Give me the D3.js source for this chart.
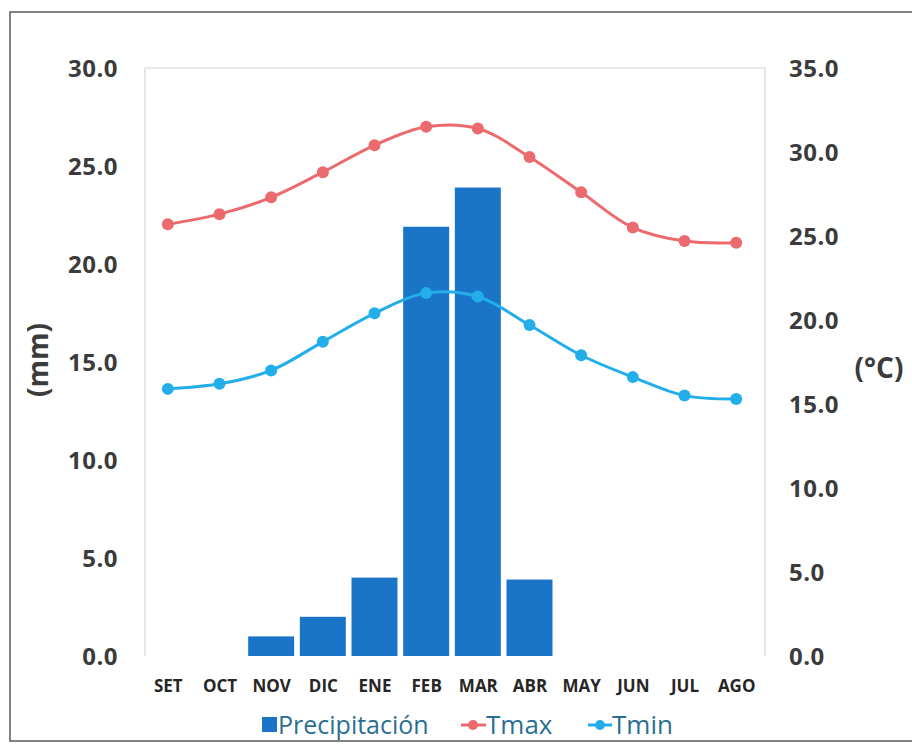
<!DOCTYPE html>
<html>
<head>
<meta charset="utf-8">
<script src="https://cdn.jsdelivr.net/npm/d3@7"></script>
<style>
  html, body { margin: 0; padding: 0; background: #fff; }
  svg { display: block; }
</style>
</head>
<body>
<svg id="chart" width="912" height="747"></svg>
<script>
const months = ["SET","OCT","NOV","DIC","ENE","FEB","MAR","ABR","MAY","JUN","JUL","AGO"];
const precipitacion = [0, 0, 1.0, 2.0, 4.0, 21.9, 23.9, 3.9, 0, 0, 0, 0];
const tmax = [25.7, 26.3, 27.3, 28.8, 30.4, 31.5, 31.4, 29.7, 27.6, 25.5, 24.7, 24.6];
const tmin = [15.9, 16.2, 17.0, 18.7, 20.4, 21.6, 21.4, 19.7, 17.9, 16.6, 15.5, 15.3];
const leftTicks = [0, 5, 10, 15, 20, 25, 30];
const rightTicks = [0, 5, 10, 15, 20, 25, 30, 35];

const svg = d3.select("#chart");
const W = 912, H = 747;
const plot = { left: 142, right: 762, top: 68, bottom: 656 };

const colBar = "#1a75c8", colMax = "#eb6a6d", colMin = "#23aeea";
const tickColor = "#3b3b3b";
const font = "'Open Sans', sans-serif";

// outer frame
svg.append("rect").attr("x", 10).attr("y", 12).attr("width", W).attr("height", 729)
  .attr("fill", "none").attr("stroke", "#5a5a5a").attr("stroke-width", 1.5);

const xc = d3.scalePoint().domain(months).range([plot.left, plot.right]).padding(0.5);
const yL = d3.scaleLinear().domain([0, 30]).range([plot.bottom, plot.top]);
const yR = d3.scaleLinear().domain([0, 35]).range([plot.bottom, plot.top]);

// plot area border
svg.append("path")
  .attr("d", `M${plot.left + 3},${plot.bottom} V${plot.top} H${plot.right + 3} V${plot.bottom}`)
  .attr("fill", "none").attr("stroke", "#d6d6d6").attr("stroke-width", 1.2);

// bars
const bw = xc.step() * 0.89;
svg.append("g").selectAll("rect").data(months.map((m, i) => ({ m, v: precipitacion[i] })).filter(d => d.v > 0))
  .join("rect")
  .attr("x", d => xc(d.m) - bw / 2)
  .attr("width", bw)
  .attr("y", d => yL(d.v))
  .attr("height", d => yL(0) - yL(d.v))
  .attr("fill", colBar);

// left axis
const axL = d3.axisLeft(yL).tickValues(leftTicks).tickFormat(d3.format(".1f")).tickSize(0).tickPadding(0);
const gL = svg.append("g").attr("transform", `translate(118,0)`).call(axL);
gL.select(".domain").remove();
gL.selectAll("text").attr("font-family", font).attr("font-weight", 700).attr("font-size", 24)
  .attr("letter-spacing", 0.5).attr("fill", tickColor).attr("dy", "0.35em");

// right axis
const axR = d3.axisRight(yR).tickValues(rightTicks).tickFormat(d3.format(".1f")).tickSize(0).tickPadding(0);
const gR = svg.append("g").attr("transform", `translate(789,0)`).call(axR);
gR.select(".domain").remove();
gR.selectAll("text").attr("font-family", font).attr("font-weight", 700).attr("font-size", 24)
  .attr("letter-spacing", 0.5).attr("fill", tickColor).attr("dy", "0.35em");

// x axis labels
const axX = d3.axisBottom(xc).tickSize(0).tickPadding(0);
const gX = svg.append("g").attr("transform", `translate(0,686)`).call(axX);
gX.select(".domain").remove();
gX.selectAll("text").attr("font-family", font).attr("font-weight", 700).attr("font-size", 17)
  .attr("fill", "#262626").attr("dy", "0.35em");

// axis titles
svg.append("text").attr("transform", "translate(48,360) rotate(-90)")
  .attr("text-anchor", "middle").attr("font-family", font).attr("font-weight", 700)
  .attr("font-size", 28).attr("fill", tickColor).text("(mm)");
svg.append("text").attr("x", 879).attr("y", 378)
  .attr("text-anchor", "middle").attr("font-family", font).attr("font-weight", 700)
  .attr("font-size", 28).attr("fill", tickColor).text("(°C)");

// lines
const curve = d3.curveCatmullRom.alpha(0.5);
function drawSeries(vals, col) {
  const pts = months.map((m, i) => [xc(m), yR(vals[i])]);
  svg.append("path").attr("d", d3.line().curve(curve)(pts))
    .attr("fill", "none").attr("stroke", col).attr("stroke-width", 3);
  svg.append("g").selectAll("circle").data(pts).join("circle")
    .attr("cx", d => d[0]).attr("cy", d => d[1]).attr("r", 6)
    .attr("fill", col);
}
drawSeries(tmax, colMax);
drawSeries(tmin, colMin);

// legend
const legY = 725;
const legText = "#2b6f92";
svg.append("rect").attr("x", 262).attr("y", legY - 8).attr("width", 15).attr("height", 15).attr("fill", colBar);
svg.append("text").attr("x", 278).attr("y", legY).attr("dy", "0.35em").attr("font-family", font)
  .attr("font-size", 25).attr("fill", legText).text("Precipitación");

svg.append("line").attr("x1", 461).attr("x2", 486).attr("y1", legY).attr("y2", legY)
  .attr("stroke", colMax).attr("stroke-width", 3);
svg.append("circle").attr("cx", 473).attr("cy", legY).attr("r", 5).attr("fill", colMax);
svg.append("text").attr("x", 486).attr("y", legY).attr("dy", "0.35em").attr("font-family", font)
  .attr("font-size", 26).attr("fill", legText).text("Tmax");

svg.append("line").attr("x1", 588).attr("x2", 612).attr("y1", legY).attr("y2", legY)
  .attr("stroke", colMin).attr("stroke-width", 3);
svg.append("circle").attr("cx", 600).attr("cy", legY).attr("r", 5).attr("fill", colMin);
svg.append("text").attr("x", 612).attr("y", legY).attr("dy", "0.35em").attr("font-family", font)
  .attr("font-size", 26).attr("fill", legText).text("Tmin");
</script>
</body>
</html>
